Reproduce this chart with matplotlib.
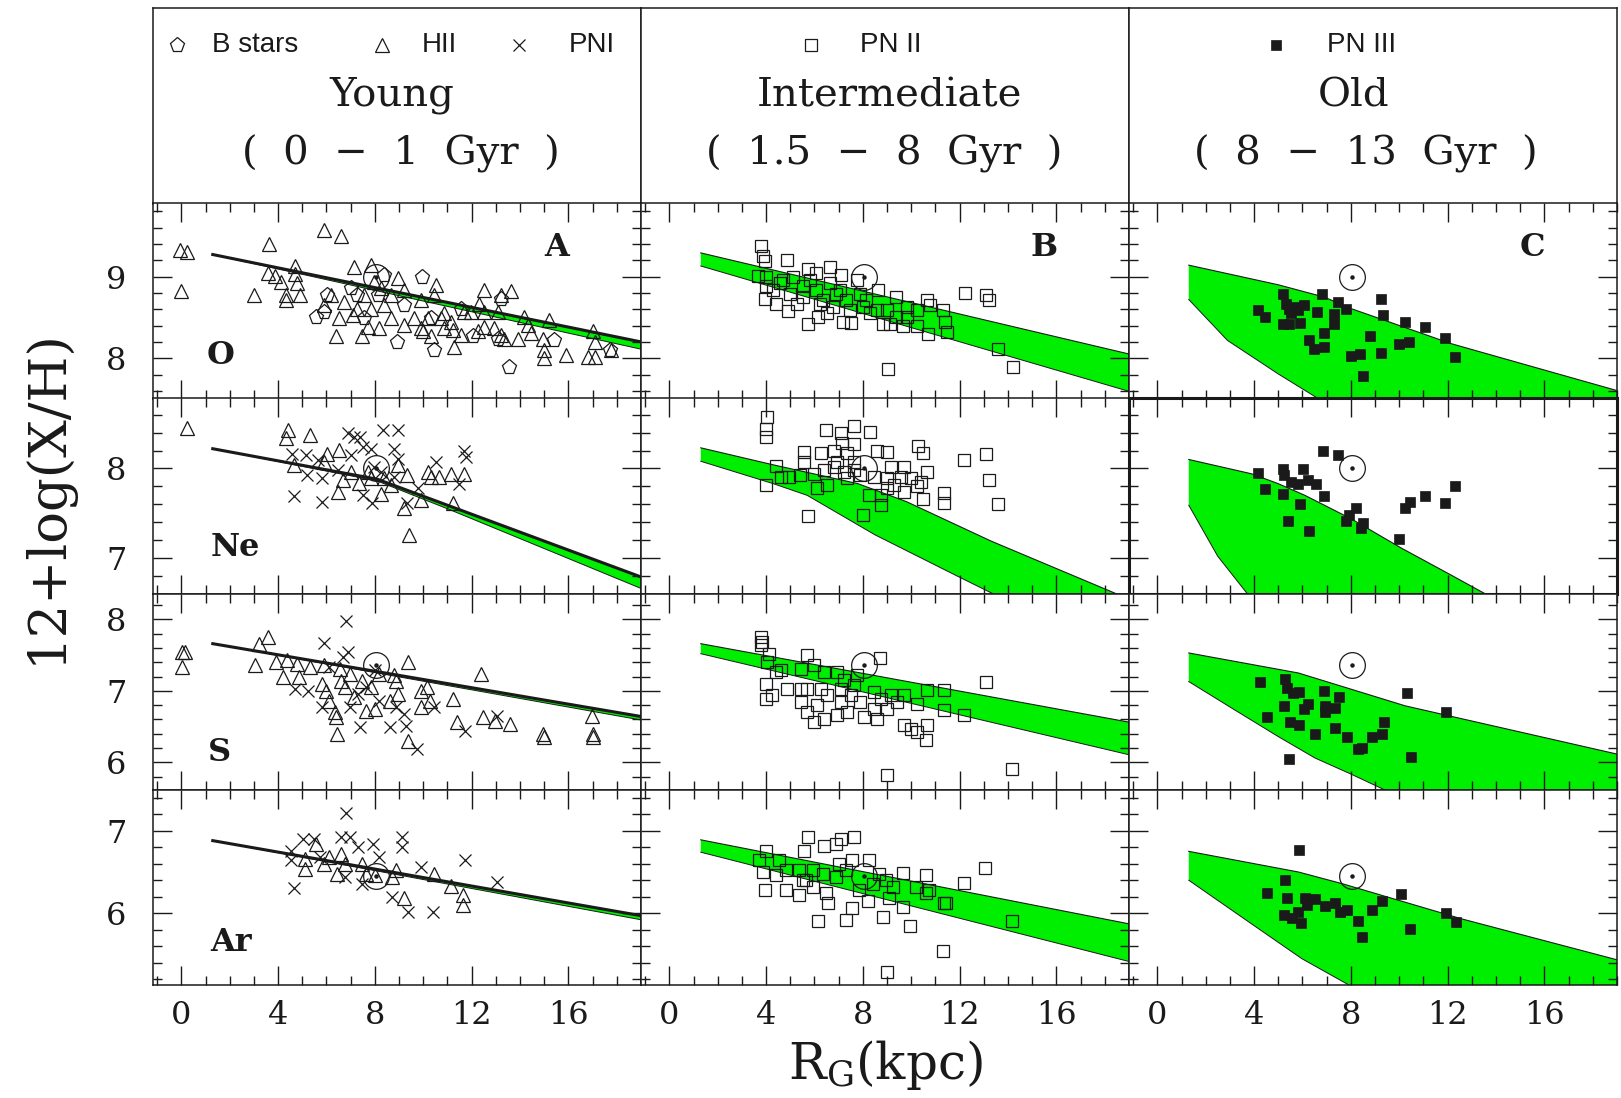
import numpy as np
import matplotlib.pyplot as plt
from matplotlib.ticker import MultipleLocator

plt.rcParams.update({
    "font.family": "DejaVu Serif",
    "mathtext.fontset": "custom",
    "mathtext.rm": "DejaVu Serif",
    "mathtext.it": "DejaVu Serif",
})

GREEN = "#00ee00"
INK = "#1a1a1a"

# ---- rows (elements) ----
elements = ["O", "Ne", "S", "Ar"]
ylims = [(7.51, 9.90), (6.60, 8.78), (5.62, 8.355), (5.13, 7.50)]
elem_label_pos = [(1.64, 8.04), (2.23, 7.12), (1.57, 6.14), (2.05, 5.64)]
sun_x = 8.05
sun_y = [9.0, 8.0, 7.36, 6.45]

# ---- columns (ages) ----
col_titles = ["Young", "Intermediate", "Old"]
col_ranges = ["(  0  \u2212  1  Gyr  )", "(  1.5  \u2212  8  Gyr  )", "(  8  \u2212  13  Gyr  )"]
col_letters = ["A", "B", "C"]
xticks = [0, 4, 8, 12, 16]

# ---- model bands: (x, y) of upper and lower edges ----
band_a_o_up = [(1.3, 9.27), (19.2, 8.19)]
band_a_o_lo = [(1.3, 9.27), (19.2, 8.10)]
band_a_ne_up = [(1.3, 8.22), (8.1, 7.88), (11.1, 7.58), (19.2, 6.77)]
band_a_ne_lo = [(1.3, 8.22), (8.1, 7.86), (11.1, 7.54), (19.2, 6.64)]
band_a_s_up = [(1.3, 7.66), (19.2, 6.63)]
band_a_s_lo = [(1.3, 7.66), (19.2, 6.58)]
band_a_ar_up = [(1.3, 6.88), (19.2, 5.96)]
band_a_ar_lo = [(1.3, 6.88), (19.2, 5.91)]

band_b_o_up = [(1.3, 9.29), (19.2, 8.04)]
band_b_o_lo = [(1.3, 9.13), (19.2, 7.58)]
band_b_ne_up = [(1.3, 8.23), (4.3, 8.04), (7.8, 7.83), (9.8, 7.63), (13.3, 7.19), (18.5, 6.60), (19.5, 6.52)]
band_b_ne_lo = [(1.3, 8.08), (4.3, 7.83), (5.7, 7.70), (8.5, 7.26), (11.9, 6.80), (13.4, 6.60), (14.5, 6.45)]
band_b_s_up = [(1.3, 7.66), (19.2, 6.55)]
band_b_s_lo = [(1.3, 7.52), (19.2, 6.09)]
band_b_ar_up = [(1.3, 6.89), (19.2, 5.86)]
band_b_ar_lo = [(1.3, 6.74), (19.2, 5.40)]

band_c_o_up = [(1.3, 9.14), (5.0, 8.90), (6.9, 8.75), (8.0, 8.61), (12.15, 8.18), (19.2, 7.59)]
band_c_o_lo = [(1.3, 8.72), (2.9, 8.22), (5.0, 7.81), (6.7, 7.50), (7.5, 7.2)]
band_c_ne_up = [(1.3, 8.10), (3.9, 7.94), (5.0, 7.83), (6.1, 7.70), (8.0, 7.44), (10.1, 7.11),
                (12.15, 6.81), (13.5, 6.61), (15.0, 6.40)]
band_c_ne_lo = [(1.3, 7.59), (2.5, 7.02), (3.7, 6.61), (4.2, 6.40)]
band_c_s_up = [(1.3, 7.53), (5.83, 7.25), (10.25, 6.79), (19.2, 6.10)]
band_c_s_lo = [(1.3, 7.13), (3.07, 6.76), (5.0, 6.36), (6.52, 6.06), (8.04, 5.83), (9.49, 5.60), (10.0, 5.5)]
band_c_ar_up = [(1.3, 6.75), (5.83, 6.50), (7.62, 6.36), (12.6, 5.93), (19.2, 5.42)]
band_c_ar_lo = [(1.3, 6.40), (3.9, 5.87), (5.97, 5.45), (8.04, 5.11), (8.5, 5.0)]

# ---- Young objects ----
a_o_hii = [(-0.05, 9.33), (0.22, 9.30), (0.0, 8.82), (3.63, 9.40), (5.88, 9.57), (6.59, 9.50),
           (3.0, 8.78), (3.59, 9.05), (3.86, 9.01), (4.14, 8.93), (4.69, 9.13), (4.69, 9.03),
           (4.8, 8.92), (4.91, 8.78), (4.32, 8.78), (4.32, 8.72), (7.12, 9.12), (7.83, 9.14),
           (6.39, 8.27), (7.45, 8.27), (6.52, 8.49), (6.73, 8.69), (7.08, 8.53), (7.70, 8.39),
           (8.19, 8.37), (8.94, 8.98), (9.21, 8.84), (10.52, 8.90), (9.9, 8.71), (9.21, 8.41),
           (9.63, 8.49), (9.97, 8.33), (10.32, 8.27), (10.73, 8.49), (10.87, 8.55), (11.21, 8.35),
           (11.28, 8.14), (11.56, 8.29), (12.52, 8.84), (12.32, 8.67), (12.52, 8.39), (12.94, 8.37),
           (13.21, 8.78), (13.63, 8.82), (13.35, 8.24), (13.9, 8.24), (14.18, 8.51), (14.46, 8.31),
           (14.94, 8.24), (15.21, 8.47), (15.0, 8.10), (15.0, 8.0), (15.9, 8.04), (16.8, 8.02),
           (17.08, 8.02), (17.0, 8.33), (17.08, 8.20), (17.77, 8.10), (8.39, 8.65), (8.66, 8.49),
           (8.66, 8.78), (5.9, 8.65), (10.46, 8.78), (10.87, 8.37), (10.18, 8.49), (12.52, 8.57),
           (13.08, 8.57), (11.97, 8.57), (14.32, 8.41), (6.18, 8.78), (7.56, 8.78), (7.83, 8.61),
           (8.25, 8.86), (7.97, 8.94), (11.14, 8.45), (13.21, 8.29), (11.7, 8.57), (9.9, 8.37),
           (7.28, 8.61), (12.25, 8.33)]
a_o_bstars = [(5.56, 8.51), (8.91, 8.2), (10.46, 8.10), (13.56, 7.90), (9.93, 9.0), (12.04, 8.28),
              (15.42, 8.22), (17.7, 8.10), (6.04, 8.78), (7.0, 8.86), (7.28, 8.78), (8.11, 8.78),
              (5.9, 8.57), (7.56, 8.49), (10.32, 8.49), (13.08, 8.24), (13.21, 8.73), (11.56, 8.61),
              (9.21, 8.65), (8.39, 9.02)]
a_ne_hii = [(0.22, 8.45), (4.39, 8.43), (4.32, 8.34), (5.32, 8.37), (6.01, 8.16), (6.52, 8.21),
            (4.66, 8.04), (6.46, 7.74), (6.67, 7.87), (8.25, 7.71), (9.21, 7.56), (9.41, 7.26),
            (9.34, 7.93), (9.90, 7.65), (10.32, 7.91), (10.66, 7.91), (11.14, 7.94), (11.70, 7.94),
            (11.25, 7.61), (7.35, 7.84), (7.83, 7.89), (8.39, 7.89), (8.94, 8.04), (7.01, 7.96),
            (7.7, 7.96), (10.18, 7.96), (5.9, 8.07), (8.66, 7.81)]
a_ne_pni = [(6.87, 8.39), (7.14, 8.35), (7.39, 8.35), (8.34, 8.43), (8.97, 8.43), (4.59, 8.16),
            (5.14, 8.15), (5.63, 8.09), (5.21, 7.93), (5.8, 7.89), (4.66, 7.69), (5.83, 7.63),
            (7.01, 8.15), (7.49, 8.24), (7.83, 8.22), (7.97, 8.02), (8.80, 8.22), (8.94, 8.11),
            (10.52, 8.07), (11.70, 8.19), (11.77, 8.13), (11.49, 7.83), (7.49, 7.70), (7.9, 7.61),
            (9.34, 7.61), (9.77, 7.78), (8.8, 7.91), (6.46, 7.98), (8.25, 7.96)]
a_s_hii = [(0.03, 7.54), (0.17, 7.55), (0.03, 7.33), (3.22, 7.66), (3.6, 7.75), (3.04, 7.36),
           (3.91, 7.41), (4.35, 7.43), (4.78, 7.38), (4.21, 7.19), (4.87, 7.19), (5.3, 7.33),
           (5.91, 7.36), (6.57, 7.31), (5.83, 7.10), (6.0, 7.0), (6.09, 6.86), (6.35, 6.70),
           (6.40, 6.63), (6.43, 6.40), (6.78, 7.05), (6.96, 7.24), (7.48, 7.14), (7.83, 7.05),
           (7.65, 6.72), (8.0, 6.75), (8.61, 6.86), (8.78, 7.22), (8.87, 7.14), (8.96, 6.96),
           (9.39, 7.41), (9.39, 6.30), (9.91, 7.00), (9.91, 6.77), (10.17, 7.05), (10.26, 6.86),
           (11.22, 6.89), (11.39, 6.56), (12.38, 7.24), (12.49, 6.63), (12.96, 6.58), (13.57, 6.54),
           (14.96, 6.40), (15.0, 6.36), (16.96, 6.65), (17.0, 6.40), (17.0, 6.36), (7.13, 6.91),
           (8.17, 7.24), (6.61, 7.14)]
a_s_pni = [(6.82, 7.98), (5.88, 7.67), (6.87, 7.54), (6.7, 7.47), (4.7, 7.03), (5.22, 7.0),
           (5.83, 6.77), (7.3, 6.96), (7.39, 6.50), (8.61, 6.49), (9.30, 6.51), (9.22, 6.68),
           (9.74, 6.19), (10.43, 6.77), (11.74, 6.44), (13.04, 6.65), (8.0, 7.29), (7.65, 7.05),
           (8.87, 6.77), (6.09, 7.33), (8.17, 6.86), (6.96, 6.77)]
a_ar_hii = [(5.13, 6.66), (5.13, 6.54), (5.57, 6.84), (5.91, 6.60), (6.43, 6.48), (6.61, 6.72),
            (6.78, 6.60), (7.48, 6.60), (7.65, 6.48), (8.0, 6.46), (8.7, 6.44), (9.22, 6.18),
            (10.43, 6.48), (11.16, 6.33), (11.65, 6.22), (11.65, 6.10), (6.09, 6.68), (8.87, 6.52)]
a_ar_pni = [(6.82, 7.21), (9.13, 6.93), (9.13, 6.80), (7.91, 6.84), (5.04, 6.90), (5.48, 6.90),
            (4.52, 6.75), (4.52, 6.64), (4.66, 6.30), (6.61, 6.92), (6.96, 6.92), (7.3, 6.80),
            (6.78, 6.44), (7.48, 6.36), (8.7, 6.20), (9.39, 6.02), (10.4, 6.02), (11.74, 6.64),
            (13.04, 6.38), (9.91, 6.56), (8.17, 6.68), (5.74, 6.68)]

# ---- Intermediate objects (PN II) ----
b_o_pn2 = [(3.81, 9.38), (3.88, 9.25), (3.94, 9.19), (4.87, 9.20), (5.74, 9.09), (7.08, 9.02),
           (3.67, 9.01), (4.01, 8.99), (4.01, 8.88), (3.94, 8.73), (4.43, 8.67), (4.91, 8.58),
           (4.29, 8.84), (4.7, 8.96), (5.12, 9.0), (5.53, 8.88), (5.53, 8.75), (5.74, 8.42),
           (6.15, 8.51), (5.81, 8.96), (6.08, 8.84), (6.36, 8.71), (6.63, 8.92), (6.77, 8.63),
           (7.19, 8.44), (7.53, 8.43), (7.32, 8.71), (7.74, 8.96), (7.88, 8.79), (8.01, 8.63),
           (8.29, 8.55), (8.63, 8.84), (8.84, 8.42), (9.12, 8.42), (9.39, 8.75), (9.81, 8.63),
           (9.81, 8.51), (9.67, 8.40), (10.22, 8.40), (10.64, 8.71), (10.77, 8.65), (10.68, 8.30),
           (11.32, 8.59), (11.39, 8.44), (11.46, 8.32), (12.22, 8.80), (13.09, 8.77), (13.23, 8.71),
           (13.6, 8.11), (14.19, 7.89), (9.02, 7.87), (6.63, 9.12), (6.08, 9.04), (6.9, 8.79),
           (7.46, 8.59), (8.15, 8.71), (8.57, 8.59), (6.22, 8.67), (5.26, 8.67), (6.5, 8.55),
           (7.05, 8.84), (8.98, 8.59), (9.39, 8.51), (10.22, 8.59), (4.98, 8.79), (4.57, 8.92)]
b_ne_pn2 = [(4.02, 8.57), (3.98, 8.44), (3.98, 8.35), (6.46, 8.43), (7.08, 8.39), (7.63, 8.47),
            (8.29, 8.41), (7.12, 8.28), (7.63, 8.27), (5.56, 8.18), (5.56, 8.07), (6.25, 8.17),
            (6.80, 8.20), (7.36, 8.17), (8.59, 8.19), (9.01, 8.18), (10.28, 8.25), (10.47, 8.17),
            (12.18, 8.09), (13.10, 8.16), (13.21, 7.87), (13.6, 7.60), (4.39, 8.03), (3.98, 7.82),
            (4.6, 7.91), (4.94, 7.91), (5.42, 7.93), (6.0, 7.94), (6.4, 7.98), (6.8, 8.02),
            (7.2, 7.96), (7.63, 7.98), (7.9, 7.93), (8.46, 7.91), (9.01, 7.89), (9.56, 7.91),
            (9.97, 7.89), (9.15, 8.02), (9.7, 8.02), (6.12, 7.78), (6.53, 7.81), (5.73, 7.47),
            (8.02, 7.48), (8.26, 7.70), (8.73, 7.59), (8.73, 7.70), (9.01, 7.78), (9.7, 7.74),
            (10.47, 7.66), (11.35, 7.73), (11.35, 7.61), (10.25, 7.80), (10.66, 7.96), (10.39, 7.85),
            (9.28, 7.81), (7.36, 7.89), (6.94, 8.07), (7.63, 8.07)]
b_s_pn2 = [(3.77, 7.76), (3.84, 7.69), (3.77, 7.64), (4.12, 7.52), (4.05, 7.41), (3.98, 7.10),
           (3.98, 6.89), (4.26, 6.94), (4.39, 7.27), (4.88, 7.03), (4.6, 7.29), (5.43, 7.31),
           (5.7, 7.50), (5.98, 7.36), (6.39, 7.27), (6.94, 7.27), (7.22, 7.15), (7.77, 7.22),
           (8.71, 7.46), (13.10, 7.13), (14.18, 5.91), (9.01, 5.82), (10.66, 7.01), (11.35, 7.01),
           (11.35, 6.73), (12.18, 6.66), (5.43, 7.03), (5.43, 6.85), (5.70, 6.71), (5.98, 6.57),
           (6.39, 6.61), (6.94, 6.66), (7.36, 6.71), (8.04, 6.64), (8.59, 6.61), (9.01, 6.75),
           (9.42, 6.85), (9.70, 6.52), (9.97, 6.47), (10.25, 6.43), (10.6, 6.31), (10.66, 6.52),
           (10.25, 6.82), (6.25, 7.03), (6.53, 6.94), (7.08, 7.03), (7.49, 6.94), (7.9, 6.85),
           (8.46, 6.99), (8.73, 6.89), (7.63, 7.08), (7.08, 6.85), (6.12, 6.80), (5.70, 7.03),
           (8.46, 6.75), (9.15, 6.94), (9.70, 6.94)]
b_ar_pn2 = [(5.72, 6.92), (6.4, 6.82), (6.89, 6.84), (7.09, 6.90), (7.64, 6.92), (5.58, 6.75),
            (3.99, 6.76), (3.72, 6.64), (3.86, 6.50), (4.41, 6.46), (3.97, 6.28), (4.82, 6.28),
            (5.34, 6.22), (6.13, 5.91), (7.30, 5.92), (8.82, 5.96), (9.94, 5.85), (11.32, 5.54),
            (8.98, 5.29), (13.06, 6.55), (12.19, 6.37), (14.15, 5.91), (11.36, 6.12), (6.54, 6.12),
            (7.55, 6.06), (8.2, 6.15), (9.64, 6.08), (9.09, 6.19), (8.26, 6.64), (9.64, 6.49),
            (10.61, 6.46), (10.61, 6.24), (4.55, 6.64), (4.82, 6.52), (5.37, 6.52), (5.65, 6.40),
            (5.92, 6.52), (6.34, 6.48), (6.47, 6.24), (6.89, 6.44), (7.30, 6.52), (7.57, 6.64),
            (7.85, 6.28), (8.4, 6.36), (8.68, 6.48), (8.95, 6.40), (9.23, 6.32), (10.19, 6.32),
            (10.74, 6.28), (11.43, 6.12), (7.02, 6.60), (5.92, 6.32), (5.51, 6.40)]

# ---- Old objects (PN III) ----
c_o_pn3 = [(5.21, 8.79), (5.32, 8.67), (4.18, 8.59), (4.46, 8.51), (5.53, 8.55), (5.81, 8.59),
           (6.08, 8.65), (5.74, 8.63), (5.46, 8.61), (6.61, 8.57), (6.81, 8.79), (7.46, 8.69),
           (7.30, 8.54), (7.30, 8.42), (7.81, 8.60), (9.23, 8.73), (9.32, 8.53), (10.25, 8.44),
           (11.05, 8.38), (11.88, 8.25), (12.29, 8.02), (8.80, 8.27), (9.23, 8.07), (10.01, 8.18),
           (10.39, 8.20), (7.99, 8.03), (8.36, 8.05), (8.52, 7.79), (6.91, 8.31), (6.26, 8.22),
           (6.47, 8.11), (6.88, 8.14), (5.88, 8.43), (5.19, 8.42), (5.46, 8.42)]
c_ne_pn3 = [(4.18, 7.95), (4.46, 7.77), (5.21, 7.99), (5.25, 7.93), (5.53, 7.85), (5.81, 7.83),
            (6.04, 7.99), (6.22, 7.87), (6.57, 7.83), (6.84, 8.19), (7.46, 8.15), (6.91, 7.69),
            (5.21, 7.71), (5.88, 7.60), (5.42, 7.41), (6.26, 7.30), (7.92, 7.48), (7.81, 7.41),
            (8.22, 7.56), (8.5, 7.39), (8.43, 7.34), (10.01, 7.21), (10.25, 7.56), (10.43, 7.63),
            (11.05, 7.69), (11.88, 7.61), (12.29, 7.80)]
c_s_pn3 = [(4.24, 7.13), (5.28, 7.17), (5.37, 7.04), (5.62, 6.97), (5.87, 6.99), (6.89, 7.0),
           (7.51, 6.91), (5.25, 6.79), (4.52, 6.63), (6.22, 6.82), (6.08, 6.74), (6.93, 6.79),
           (6.93, 6.71), (7.35, 6.76), (5.50, 6.57), (5.85, 6.52), (5.43, 6.05), (6.52, 6.39),
           (7.35, 6.48), (7.83, 6.36), (8.31, 6.18), (8.45, 6.20), (8.87, 6.35), (9.28, 6.39),
           (9.39, 6.56), (10.33, 6.97), (11.93, 6.71), (10.47, 6.08)]
c_ar_pn3 = [(5.87, 6.77), (5.28, 6.40), (4.52, 6.24), (5.37, 6.19), (6.10, 6.19), (6.20, 6.10),
            (6.52, 6.17), (6.93, 6.09), (7.35, 6.13), (7.55, 6.02), (7.86, 6.04), (8.31, 5.90),
            (8.45, 5.71), (8.87, 6.04), (9.28, 6.15), (10.08, 6.23), (5.25, 5.98), (5.55, 5.94),
            (5.93, 5.88), (10.46, 5.81), (11.94, 6.0), (12.35, 5.89), (5.83, 6.01)]

bands = [
    [(band_a_o_up, band_a_o_lo), (band_b_o_up, band_b_o_lo), (band_c_o_up, band_c_o_lo)],
    [(band_a_ne_up, band_a_ne_lo), (band_b_ne_up, band_b_ne_lo), (band_c_ne_up, band_c_ne_lo)],
    [(band_a_s_up, band_a_s_lo), (band_b_s_up, band_b_s_lo), (band_c_s_up, band_c_s_lo)],
    [(band_a_ar_up, band_a_ar_lo), (band_b_ar_up, band_b_ar_lo), (band_c_ar_up, band_c_ar_lo)],
]
young = [
    [(a_o_hii, "hii"), (a_o_bstars, "bstar")],
    [(a_ne_hii, "hii"), (a_ne_pni, "pni")],
    [(a_s_hii, "hii"), (a_s_pni, "pni")],
    [(a_ar_hii, "hii"), (a_ar_pni, "pni")],
]
inter = [b_o_pn2, b_ne_pn2, b_s_pn2, b_ar_pn2]
old = [c_o_pn3, c_ne_pn3, c_s_pn3, c_ar_pn3]

mstyle = {
    "hii": dict(marker="^", ms=10, mfc="none", mec=INK, mew=0.9),
    "bstar": dict(marker="p", ms=11, mfc="none", mec=INK, mew=0.9),
    "pni": dict(marker="x", ms=8, mec=INK, mew=0.9),
    "pn2": dict(marker="s", ms=8.5, mfc="none", mec=INK, mew=0.9),
    "pn3": dict(marker="s", ms=6.5, mfc=INK, mec=INK, mew=0.5),
}

W, H = 1621.0, 1098.0
col_left = [153, 641, 1129]
col_w = 488
row_top = [8, 203, 398.5, 594, 789.5]
row_h = 195.5


def rect(c, r):
    return [col_left[c] / W, 1 - (row_top[r] + row_h) / H, col_w / W, row_h / H]


def pts(lst):
    a = np.array(lst, dtype=float)
    return a[:, 0], a[:, 1]


fig = plt.figure(figsize=(W / 100, H / 100), dpi=100)

# header boxes
legend_items = [
    [("bstar", 0.049, "B stars", 0.120), ("hii", 0.469, "HII", 0.551), ("pni", 0.750, "PNI", 0.852)],
    [("pn2", 0.348, "PN II", 0.449)],
    [("pn3", 0.302, "PN III", 0.405)],
]
title_x = [0.49, 0.51, 0.46]
range_x = [0.508, 0.498, 0.486]
for c in range(3):
    hx = fig.add_axes(rect(c, 0))
    hx.set_xticks([])
    hx.set_yticks([])
    for s in hx.spines.values():
        s.set_linewidth(1.1)
        s.set_color(INK)
    for key, mx, label, tx in legend_items[c]:
        hx.plot([mx], [0.812], transform=hx.transAxes, ls="none", **mstyle[key])
        hx.text(tx, 0.812, label, transform=hx.transAxes, ha="left", va="center",
                fontsize=20, family="Liberation Sans", color=INK)
    hx.text(title_x[c], 0.552, col_titles[c], transform=hx.transAxes, ha="center",
            va="center", fontsize=29, color=INK)
    hx.text(range_x[c], 0.253, col_ranges[c], transform=hx.transAxes, ha="center",
            va="center", fontsize=29, color=INK)

for r in range(4):
    for c in range(3):
        ax = fig.add_axes(rect(c, r + 1))
        ax.set_xlim(-1.17, 19.0)
        ax.set_ylim(*ylims[r])

        up, lo = bands[r][c]
        ux, uy = pts(up)
        lx, ly = pts(lo)
        ax.fill(np.r_[ux, 20.0, lx[::-1]], np.r_[uy, 0.0, ly[::-1]],
                color=GREEN, lw=0, zorder=1)
        ax.plot(lx, ly, color=INK, lw=0.7, zorder=2)
        ax.plot(ux, uy, color=INK, lw=2.2 if c == 0 else 0.8, zorder=2)

        if c == 0:
            for lst, key in young[r]:
                x, y = pts(lst)
                ax.plot(x, y, ls="none", zorder=3, **mstyle[key])
        elif c == 1:
            x, y = pts(inter[r])
            ax.plot(x, y, ls="none", zorder=3, **mstyle["pn2"])
        else:
            x, y = pts(old[r])
            ax.plot(x, y, ls="none", zorder=3, **mstyle["pn3"])

        # sun
        ax.plot([sun_x], [sun_y[r]], ls="none", marker="o", ms=18.5, mfc="none",
                mec=INK, mew=0.9, zorder=4)
        ax.plot([sun_x], [sun_y[r]], ls="none", marker="o", ms=2.2, color=INK, zorder=4)

        if r == 0:
            ax.text(15.5, 9.35, col_letters[c], ha="center", va="center",
                    fontsize=23, fontweight="bold", color=INK)
        if c == 0:
            ex, ey = elem_label_pos[r]
            ax.text(ex, ey, elements[r], ha="center", va="center",
                    fontsize=23, fontweight="bold", color=INK)

        ax.set_xticks(xticks)
        ax.xaxis.set_minor_locator(MultipleLocator(1))
        ax.yaxis.set_major_locator(MultipleLocator(1))
        ax.yaxis.set_minor_locator(MultipleLocator(0.2))
        ax.tick_params(which="both", direction="in", top=True, right=True,
                       width=1.0, color=INK, labelsize=23, labelcolor=INK)
        ax.tick_params(which="major", length=13.5)
        ax.tick_params(which="minor", length=6.5)
        ax.tick_params(axis="y", pad=19, labelleft=(c == 0))
        ax.tick_params(axis="x", pad=11, labelbottom=(r == 3))
        lw = 2.2 if (r == 1 and c == 2) else 1.1
        for s in ax.spines.values():
            s.set_linewidth(lw)
            s.set_color(INK)
        ax.spines["left"].set_zorder(5)

fig.text(0.029, 0.548, "12+log(X/H)", rotation=90, ha="center", va="center",
         fontsize=38, color=INK)
fig.text(0.546, 0.030, r"R$_{\mathrm{G}}$(kpc)", ha="center", va="center",
         fontsize=36, color=INK)

fig.savefig("out.png", dpi=100)
plt.close(fig)
